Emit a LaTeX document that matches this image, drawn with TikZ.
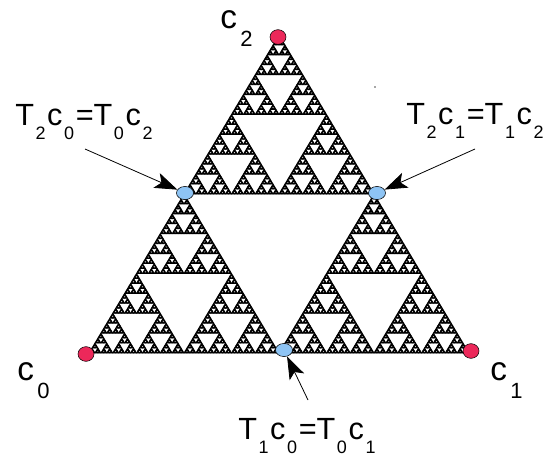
\documentclass[tikz,border=0pt]{standalone}
\usepackage{fontspec}
\setmainfont{Liberation Sans}
\usepackage{tikz}
\usetikzlibrary{arrows.meta,positioning,calc,shapes.geometric}
\definecolor{cornerred}{RGB}{236,40,90}
\definecolor{midblue}{RGB}{142,196,244}

% subscript digits, set well below the baseline
\newcommand\csub[1]{\kern2.5pt\raisebox{-13.5pt}{\fontsize{16.5}{16.5}\selectfont #1}}
\newcommand\tsub[1]{\kern1.2pt\raisebox{-10.5pt}{\fontsize{13.5}{13.5}\selectfont #1}\kern1.2pt}

% gasket by recursion on the three corners
\newcommand\sierpinski[7]{%
  \ifnum#1=0
    \filldraw[gasket] (#2,#3) -- (#4,#5) -- (#6,#7) -- cycle;
  \else
    \begingroup
      \pgfmathsetmacro\abx{(#2+#4)/2}\pgfmathsetmacro\aby{(#3+#5)/2}%
      \pgfmathsetmacro\bcx{(#4+#6)/2}\pgfmathsetmacro\bcy{(#5+#7)/2}%
      \pgfmathsetmacro\cax{(#6+#2)/2}\pgfmathsetmacro\cay{(#7+#3)/2}%
      \edef\nextlevel{\the\numexpr#1-1\relax}%
      \edef\recurse{%
        \noexpand\sierpinski{\nextlevel}{#2}{#3}{\abx}{\aby}{\cax}{\cay}%
        \noexpand\sierpinski{\nextlevel}{\abx}{\aby}{#4}{#5}{\bcx}{\bcy}%
        \noexpand\sierpinski{\nextlevel}{\cax}{\cay}{\bcx}{\bcy}{#6}{#7}}%
      \recurse
    \endgroup
  \fi}

\tikzset{
  gasket/.style={black, line width=0.6pt, line join=round},
  corner/.style={ellipse, draw, line width=0.4pt, fill=cornerred,
    minimum width=12pt, minimum height=11pt, inner sep=0pt},
  midpt/.style={corner, fill=midblue, minimum width=12.8pt, minimum height=9.8pt},
  clabel/.style={anchor=base west, inner sep=0pt, font=\fontsize{25}{25}\selectfont},
  tlabel/.style={anchor=base west, inner sep=0pt, font=\fontsize{23}{23}\selectfont},
  pointer/.style={-{Stealth[length=17pt, width=12pt, inset=4pt]}, line width=0.6pt}
}

\begin{document}
\begin{tikzpicture}[x=0.75pt, y=-0.75pt]
    \useasboundingbox (0,0) rectangle (546,457);

    % the gasket
    \sierpinski{7}{89}{353}{469}{353}{279}{35}

    % stray dot
    \fill[black!70] (375,87) circle (0.9);

    % corners and midpoints
    \node[corner] (c0) at (86,354) {};
    \node[corner] (c1) at (471,351) {};
    \node[corner] (c2) at (278,37) {};
    \node[midpt] (m02) at (185,193) {};
    \node[midpt] (m12) at (377,193) {};
    \node[midpt] (m01) at (284,350) {};

    % labels
    \node[clabel] (lc0) at (17,380) {c\csub{0}};
    \node[clabel] (lc1) at (490,380) {c\csub{1}};
    \node[clabel] (lc2) at (220,28) {c\csub{2}};
    \node[tlabel] (lm02) at (15,125) {T\tsub{2}c\tsub{0}=T\tsub{0}c\tsub{2}};
    \node[tlabel] (lm12) at (406,124) {T\tsub{2}c\tsub{1}=T\tsub{1}c\tsub{2}};
    \node[tlabel] (lm01) at (238,439) {T\tsub{1}c\tsub{0}=T\tsub{0}c\tsub{1}};

    % arrows
    \coordinate (s02) at (85,149);
    \coordinate (s12) at (475,149);
    \coordinate (s01) at (308,400);
    \draw[pointer] (s02) -- (m02);
    \draw[pointer] (s12) -- (m12);
    \draw[pointer] (s01) -- (m01);
\end{tikzpicture}
\end{document}
